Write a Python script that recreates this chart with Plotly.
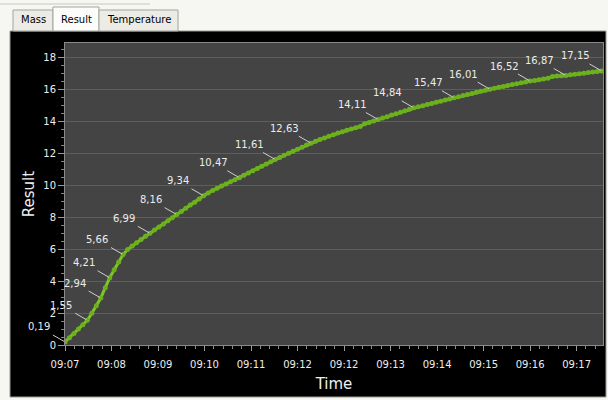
import pandas as pd
import plotly.graph_objects as go

# logged series, one reading every 5 s from START
START = "2013-05-14 09:07:45"
STEP_S = 5
RESULT = [
    0.19, 0.45, 0.72, 1.00, 1.27, 1.55, 1.99, 2.46, 2.94, 3.59,
    4.21, 4.71, 5.19, 5.66, 5.97, 6.19, 6.40, 6.60, 6.80, 6.99,
    7.19, 7.38, 7.58, 7.78, 7.97, 8.16, 8.35, 8.56, 8.76, 8.94,
    9.14, 9.34, 9.52, 9.67, 9.81, 9.95, 10.08, 10.21, 10.34, 10.47,
    10.62, 10.76, 10.91, 11.05, 11.19, 11.33, 11.47, 11.61, 11.74, 11.87,
    12.00, 12.13, 12.25, 12.38, 12.51, 12.63, 12.75, 12.86, 12.96, 13.06,
    13.16, 13.26, 13.35, 13.44, 13.52, 13.60, 13.68, 13.84, 13.93, 14.02,
    14.11, 14.20, 14.29, 14.39, 14.48, 14.57, 14.66, 14.75, 14.84, 14.91,
    14.98, 15.05, 15.12, 15.19, 15.26, 15.33, 15.40, 15.47, 15.54, 15.61,
    15.68, 15.74, 15.81, 15.88, 15.95, 16.01, 16.07, 16.13, 16.18, 16.24,
    16.30, 16.35, 16.41, 16.46, 16.52, 16.56, 16.60, 16.64, 16.70, 16.80,
    16.84, 16.85, 16.87, 16.91, 16.94, 16.98, 17.01, 17.05, 17.08, 17.12,
    17.15,
]
# readings that carry a value label
LABEL_IDX = [0, 5, 8, 10, 13, 19, 25, 31, 39, 47, 55, 70, 78, 87, 95, 104, 112, 120]

TICK_LABELS = ["09:07", "09:08", "09:09", "09:10", "09:11", "09:12",
               "09:12", "09:13", "09:14", "09:15", "09:16", "09:17"]
TICK_STEP_S = 52
VIEW_S = 601.5

TABS = ["Mass", "Result", "Temperature"]
ACTIVE_TAB = "Result"

time = pd.date_range(START, periods=len(RESULT), freq=f"{STEP_S}s")
tickvals = pd.date_range(START, periods=len(TICK_LABELS), freq=f"{TICK_STEP_S}s")
t0 = pd.Timestamp(START)

W, H = 608, 400
L, R, T, B = 65, 5, 43, 55
PW, PH = W - L - R, H - T - B


def px(x):
    return (x - L) / PW


def py(y):
    return (H - B - y) / PH


fig = go.Figure()
fig.add_trace(go.Scatter(
    x=time, y=RESULT, mode="lines+markers",
    line=dict(color="#80c427", width=3),
    marker=dict(size=5, color="#6bb11c"),
    hoverinfo="skip", showlegend=False,
))

annotations = []
for i in LABEL_IDX:
    annotations.append(dict(
        x=time[i], y=RESULT[i], xref="x", yref="y",
        text=f"{RESULT[i]:.2f}".replace(".", ","),
        showarrow=True, arrowhead=0, arrowwidth=1, arrowcolor="#d0d0d0",
        ax=-26, ay=-15, standoff=1, startstandoff=2,
        font=dict(family="DejaVu Sans", size=10, color="#ececec"),
    ))

# window chrome: light frame around the black panel and the tab strip
shapes = []
for x0, y0, x1, y1 in [(0, 0, W, 31), (0, 0, 10, H), (606, 0, W, H), (0, 397, W, H)]:
    shapes.append(dict(type="rect", xref="paper", yref="paper", layer="above",
                       x0=px(x0), x1=px(x1), y0=py(y0), y1=py(y1),
                       fillcolor="#f6f6f3", line=dict(width=0)))
shapes.append(dict(type="rect", xref="paper", yref="paper", layer="above",
                   x0=px(10), x1=px(606), y0=py(31), y1=py(397),
                   fillcolor="rgba(0,0,0,0)", line=dict(color="#9a9a94", width=1)))
shapes.append(dict(type="line", xref="paper", yref="paper", layer="above",
                   x0=px(0), x1=px(150), y0=py(4), y1=py(4),
                   line=dict(color="#c8c8c4", width=1)))

tab_edges = [(13, 53), (53, 99), (99, 178)]
for name, (a, b) in zip(TABS, tab_edges):
    top = 7 if name == ACTIVE_TAB else 10
    shapes.append(dict(type="rect", xref="paper", yref="paper", layer="above",
                       x0=px(a), x1=px(b), y0=py(31), y1=py(top),
                       fillcolor="#fcfcfb" if name == ACTIVE_TAB else "#ecebe5",
                       line=dict(color="#a3a39d", width=1)))
    annotations.append(dict(x=px((a + b) / 2), y=py(20), xref="paper", yref="paper",
                            xanchor="center", yanchor="middle",
                            text=name, showarrow=False,
                            font=dict(family="DejaVu Sans", size=10, color="#000000")))

fig.update_layout(
    width=W, height=H, autosize=False,
    margin=dict(l=L, r=R, t=T, b=B),
    paper_bgcolor="#000000", plot_bgcolor="#444444",
    font=dict(family="DejaVu Sans", size=10, color="#eeeeee"),
    annotations=annotations, shapes=shapes,
)
fig.update_xaxes(
    type="date", range=[t0, t0 + pd.Timedelta(seconds=VIEW_S)], automargin=False,
    tickmode="array", tickvals=tickvals, ticktext=TICK_LABELS,
    ticks="outside", ticklen=5, tickcolor="#9a9a9a", ticklabelstandoff=5,
    showgrid=False, zeroline=False,
    showline=True, linecolor="#8a8a8a", mirror=True,
    minor=dict(ticks="outside", ticklen=3, tickcolor="#8a8a8a",
               dtick=TICK_STEP_S * 1000 / 5, tick0=t0, showgrid=False),
    title=dict(text="Time", font=dict(size=15, color="#f0f0f0"), standoff=9),
)
fig.update_yaxes(
    range=[0, 18.9], dtick=2, tick0=0, automargin=False,
    ticks="outside", ticklen=6, tickcolor="#9a9a9a",
    showgrid=True, gridcolor="#5e5e5e", gridwidth=1, zeroline=False,
    showline=True, linecolor="#8a8a8a", mirror=True,
    minor=dict(ticks="outside", ticklen=3, tickcolor="#8a8a8a", dtick=0.5, showgrid=False),
    title=dict(text="Result", font=dict(size=15, color="#f0f0f0"), standoff=5),
)

fig.write_html(
    "out.html",
    config={"displayModeBar": False},
    post_script="document.body.style.margin='0';document.body.style.overflow='hidden';",
)
